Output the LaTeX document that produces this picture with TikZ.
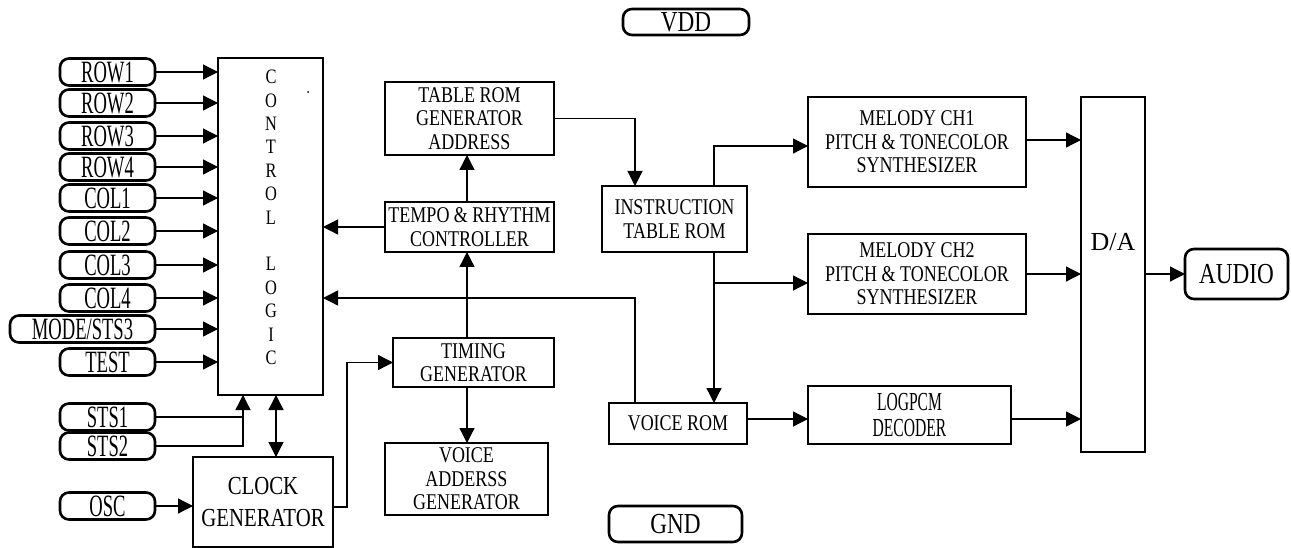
\documentclass[tikz,border=0pt]{standalone}
\usepackage{fontspec}
\usetikzlibrary{arrows.meta,calc}
\newfontfamily\fa{Liberation Serif}[FakeStretch=0.8]
\newfontfamily\fb{Liberation Serif}[FakeStretch=0.6]
\newfontfamily\fc{Liberation Serif}
\begin{document}
\begin{tikzpicture}[x=1pt,y=-1pt,
  box/.style={draw,line width=2.6pt,inner sep=0pt,outer sep=0pt,align=center,
    font=\fa\fontsize{22.5}{23.5}\selectfont},
  pill/.style={draw,line width=2.6pt,rounded corners=9pt,inner sep=0pt,outer sep=0pt,
    minimum width=95pt,minimum height=27pt,font=\fb\fontsize{31}{31}\selectfont},
  conn/.style={line width=1.3pt},
  arr/.style={line width=1.3pt,-{Triangle[length=15pt,width=15pt]}},
  biarr/.style={line width=1.3pt,{Triangle[length=15pt,width=15pt]}-{Triangle[length=15pt,width=15pt]}}]
\useasboundingbox[fill=white] (0,0) rectangle (1291,548);

% main blocks
\node[box,minimum width=105pt,minimum height=337pt] (CL) at (270.5,226.5) {};
\node[font=\fa\fontsize{20.5}{23.4}\selectfont,align=center,inner sep=0pt] (CLt) at (271,217.4)
  {C\\O\\N\\T\\R\\O\\L\\~\\L\\O\\G\\I\\C};
\fill (308,92) circle (1pt);
\node[box,minimum width=169pt,minimum height=73pt] (TRGA) at (469.5,118.5) {TABLE ROM\\GENERATOR\\ADDRESS};
\node[box,minimum width=169pt,minimum height=50pt] (TR) at (469.5,227) {TEMPO \& RHYTHM\\CONTROLLER};
\node[box,minimum width=161pt,minimum height=49pt] (TG) at (473.5,362.5) {TIMING\\GENERATOR};
\node[box,minimum width=163pt,minimum height=72pt] (VAG) at (466.5,479) {VOICE\\ADDERSS\\GENERATOR};
\node[box,minimum width=140pt,minimum height=90pt,font=\fa\fontsize{26}{32}\selectfont] (CG) at (263,502) {CLOCK\\GENERATOR};
\node[box,minimum width=145pt,minimum height=66pt] (ITR) at (674.5,219) {INSTRUCTION\\TABLE ROM};
\node[box,minimum width=138pt,minimum height=41pt] (VR) at (678,423.5) {VOICE ROM};
\node[box,minimum width=218pt,minimum height=90pt] (M1) at (917,142) {MELODY CH1\\PITCH \& TONECOLOR\\SYNTHESIZER};
\node[box,minimum width=218pt,minimum height=80pt] (M2) at (917,274) {MELODY CH2\\PITCH \& TONECOLOR\\SYNTHESIZER};
\node[box,minimum width=203pt,minimum height=58pt,font=\fb\fontsize{26}{26}\selectfont] (LD) at (909.5,415) {LOGPCM\\DECODER};
\node[box,minimum width=64pt,minimum height=355pt] (DA) at (1113,274.5) {};
\node[font=\fc\fontsize{26}{26}\selectfont,inner sep=0pt] (DAt) at (1113,242) {D/A};

% pills
\node[pill] (row1) at (107.5,72) {ROW1};
\node[pill] (row2) at (107.5,103) {ROW2};
\node[pill] (row3) at (107.5,136) {ROW3};
\node[pill] (row4) at (107.5,167) {ROW4};
\node[pill] (col1) at (107.5,198) {COL1};
\node[pill] (col2) at (107.5,231) {COL2};
\node[pill] (col3) at (107.5,265) {COL3};
\node[pill] (col4) at (107.5,298) {COL4};
\node[pill,minimum width=145pt] (mode) at (82.5,329) {MODE/STS3};
\node[pill] (test) at (107.5,362) {TEST};
\node[pill] (sts1) at (107.5,417) {STS1};
\node[pill] (sts2) at (107.5,446) {STS2};
\node[pill] (osc) at (107.5,506) {OSC};
\node[pill,minimum width=126pt,minimum height=26pt,font=\fa\fontsize{29}{29}\selectfont] (vdd) at (686,22) {VDD};
\node[pill,minimum width=133pt,minimum height=36pt,font=\fa\fontsize{29}{29}\selectfont] (gnd) at (675.5,524) {GND};
\node[pill,minimum width=103pt,minimum height=50pt,font=\fa\fontsize{29}{29}\selectfont] (audio) at (1236.5,274) {AUDIO};

% helper coordinates
\coordinate (stsx) at (243,0);
\coordinate (bx) at (276,0);
\coordinate (cgx) at (347,0);
\coordinate (colx) at (467,0);
\coordinate (vx) at (635,0);
\coordinate (ix) at (714,0);
\coordinate (fby) at (0,298);
\coordinate (ldy) at (0,419);
\coordinate (m1in) at ($(M1.west)+(0,4)$);
\coordinate (m1out) at ($(M1.east)+(0,-2)$);
\coordinate (m2in) at ($(M2.west)+(0,9)$);
\coordinate (cgout) at ($(CG.east)+(0,5)$);

% input connectors
\foreach \p in {row1,row2,row3,row4,col1,col2,col3,col4,mode,test}
  \draw[arr] (\p.east) -- (\p.east -| CL.west);
\draw[conn] (sts1.east) -- (sts1.east -| stsx);
\draw[arr] (sts2.east) -| (CL.south -| stsx);
\draw[biarr] (CL.south -| bx) -- (CG.north -| bx);
\draw[arr] (osc.east) -- (osc.east -| CG.west);
\draw[arr] (cgout) -| (cgx |- TG.west) -- (TG.west);

% middle column
\draw[arr] (TG.north -| colx) -- (TR.south -| colx);
\draw[arr] (TR.north -| colx) -- (TRGA.south -| colx);
\draw[arr] (TG.south -| colx) -- (VAG.north -| colx);
\draw[arr] (TR.west) -- (TR.west -| CL.east);
\draw[arr] (TRGA.east) -| (ITR.north -| vx);
\draw[arr] (VR.north -| vx) |- (fby -| CL.east);

% right part
\draw[arr] (ITR.north -| ix) |- (m1in);
\draw[arr] (ITR.south -| ix) -- (VR.north -| ix);
\draw[arr] (ix |- m2in) -- (m2in);
\draw[arr] (VR.east |- ldy) -- (LD.west |- ldy);
\draw[arr] (m1out) -- (m1out -| DA.west);
\draw[arr] (M2.east) -- (M2.east -| DA.west);
\draw[arr] (LD.east |- ldy) -- (DA.west |- ldy);
\draw[arr] (DA.east |- audio.west) -- (audio.west);
\end{tikzpicture}
\end{document}
